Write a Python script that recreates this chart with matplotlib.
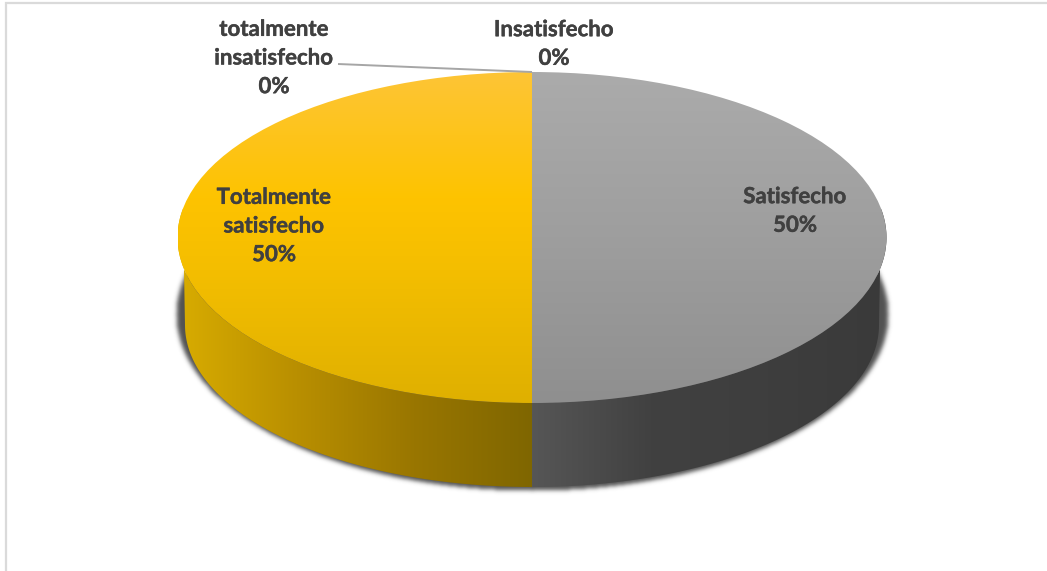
import numpy as np
import matplotlib
matplotlib.use("Agg")
import matplotlib.pyplot as plt
import matplotlib.patheffects as pe
from matplotlib.colors import LinearSegmentedColormap
from matplotlib.patches import Polygon

categories = ["Satisfecho", "Insatisfecho", "totalmente insatisfecho", "Totalmente satisfecho"]
percentages = [50, 0, 0, 50]

top_colours = [["#ABABAB", "#9E9E9E", "#8F8F8F"], None, None,
               [(0, "#FDC536"), (0.38, "#FEC300"), (0.6, "#F4BE00"), (1, "#DFB000")]]
wall_colours = [["#565656", "#414141", "#3E3E3E", "#3A3A3A"], None, None,
                ["#D8AC00", "#B98F00", "#997600", "#7F6600"]]

W, H = 1047, 571
CX, CY, RX, RY = 532.0, 237.5, 354.5, 165.5
BASE_CY, BASE_RX, BASE_RY = 325.0, 347.0, 162.0


def to_data(px, py):
    """Canvas pixels to the unit-ellipse coordinates of the pie top."""
    return (px - CX) / RX, (CY - py) / RY


plt.rcParams["font.family"] = ["Lato", "DejaVu Sans"]
fig = plt.figure(figsize=(W / 100, H / 100), dpi=100, facecolor="white")
ax = fig.add_axes([0, 0, 1, 1])

wedges, _ = ax.pie(percentages, startangle=90, counterclock=False, radius=1, center=(0, 0),
                   wedgeprops={"linewidth": 0, "facecolor": "none"}, normalize=True)
ax.set_aspect("auto")
x0, y1 = to_data(0, 0)
x1, y0 = to_data(W, H)
limits = (x0, x1, y0, y1)

# soft drop shadow under the base of the disc
yy, xx = np.mgrid[0:H, 0:W]
mask = (((xx - CX) / 356.0) ** 2 + ((yy - 314.0) / 176.0) ** 2 <= 1).astype(float)
kernel = np.exp(-0.5 * (np.arange(-8, 9) / 2.2) ** 2)
kernel /= kernel.sum()
mask = np.apply_along_axis(lambda r: np.convolve(r, kernel, mode="same"), 0, mask)
mask = np.apply_along_axis(lambda r: np.convolve(r, kernel, mode="same"), 1, mask)
shadow = np.zeros((H, W, 4))
shadow[..., :3] = 0.2
shadow[..., 3] = mask * 0.85
ax.imshow(shadow, extent=limits, origin="upper", aspect="auto", zorder=1, interpolation="nearest")

# side wall of each slice: band between top rim and base rim, shaded left to right
VISIBLE_FROM, VISIBLE_TO = 170.0, 370.0
for wedge, colours in zip(wedges, wall_colours):
    for turn in (0, 360):
        lo = max(wedge.theta1 + turn, VISIBLE_FROM)
        hi = min(wedge.theta2 + turn, VISIBLE_TO)
        if hi <= lo:
            continue
        degrees = np.linspace(lo, hi, 300)
        t = np.radians(degrees)
        upper = np.column_stack([np.cos(t), np.sin(t)])
        # the base rim stops at its widest points, the top rim runs a little past them
        b = np.radians(np.clip(degrees, 180, 360))[::-1]
        lower = np.column_stack([BASE_RX * np.cos(b) / RX,
                                 (CY - BASE_CY + BASE_RY * np.sin(b)) / RY])
        outline = np.vstack([upper, lower])
        clip = Polygon(outline, closed=True, facecolor="none", edgecolor="none", transform=ax.transData)
        ax.add_patch(clip)
        cmap = LinearSegmentedColormap.from_list("wall", colours)
        ramp = np.linspace(0, 1, 256).reshape(1, -1)
        im = ax.imshow(ramp, cmap=cmap, extent=(outline[:, 0].min(), outline[:, 0].max(), -2, 2),
                       aspect="auto", zorder=2, interpolation="bilinear")
        im.set_clip_path(clip)

# top face of each slice with its vertical gradient
for wedge, colours in zip(wedges, top_colours):
    if colours is None:
        continue
    cmap = LinearSegmentedColormap.from_list("top", colours)
    ramp = np.linspace(0, 1, 256).reshape(-1, 1)
    im = ax.imshow(ramp, cmap=cmap, extent=(-1, 1, -1, 1), origin="upper",
                   aspect="auto", zorder=3, interpolation="bilinear")
    wedge.set_zorder(3)
    im.set_clip_path(wedge)

ax.set_xlim(x0, x1)
ax.set_ylim(y0, y1)
ax.axis("off")

# leader line for the empty slice on the left
ax.plot(*zip(to_data(338, 64), (0, 1)), color="#A6A6A6", lw=1.4, zorder=4, solid_capstyle="butt")

# outer frame, only the top and left edges fall on the canvas
ax.plot(*zip(to_data(5.5, H), to_data(5.5, 2.5), to_data(W, 2.5)), color="#DADADA", lw=1.6, zorder=0,
        solid_joinstyle="miter", clip_on=False)

label_centres = [(795, 211), (554, 44), (274, 58), (274, 226)]
heavier = [pe.withStroke(linewidth=0.3, foreground="#404040")]
for name, value, (px, py) in zip(categories, percentages, label_centres):
    lx, ly = to_data(px, py)
    ax.text(lx, ly, f"{name.replace(' ', chr(10))}\n{value}%", ha="center", va="center",
            multialignment="center", fontsize=16, fontweight="bold", color="#404040",
            linespacing=1.45, zorder=5, path_effects=heavier)

fig.savefig("out.png", dpi=100, facecolor="white")
